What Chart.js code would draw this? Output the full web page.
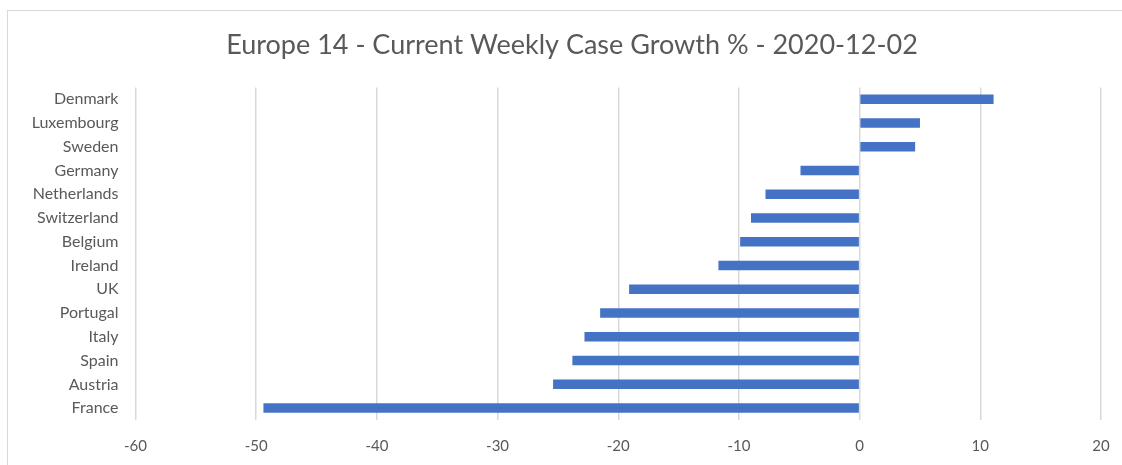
<!DOCTYPE html>
<html>
<head>
<meta charset="utf-8">
<script src="https://cdn.jsdelivr.net/npm/chart.js@4/dist/chart.umd.min.js"></script>
<style>
  html, body { margin: 0; padding: 0; background: #fff; overflow: hidden; }
  #box {
    position: absolute; left: 7px; top: 10px;
    width: 1130px; height: 470px;
    border: 1px solid #d9d9d9;
  }
</style>
</head>
<body>
<div id="box"><canvas id="chart_render" width="1130" height="470"></canvas></div>
<script>
//// data

let countries = ['Denmark', 'Luxembourg', 'Sweden', 'Germany', 'Netherlands', 'Switzerland', 'Belgium',
    'Ireland', 'UK', 'Portugal', 'Italy', 'Spain', 'Austria', 'France'];
let growthValues = [11.1, 5.0, 4.6, -4.9, -7.8, -9.0, -9.9, -11.7, -19.1, -21.5, -22.8, -23.8, -25.4, -49.4];
let xTicks = [-60, -50, -40, -30, -20, -10, 0, 10, 20];
let chartTitle = 'Europe 14 - Current Weekly Case Growth % - 2020-12-02';

let textColor = '#595959';
let chart_render = document.getElementById('chart_render');

// the excel title sits centred over the whole chart box, not the padded area
let titleShift = {
    id: 'titleShift',
    afterLayout: function(chart) {
        chart.titleBlock.left += 35;
    }
};

new Chart(chart_render.getContext('2d'), {
    type: 'bar',
    data: {
        labels: countries,
        datasets: [{
            label: 'Growth %',
            data: growthValues,
            backgroundColor: '#4472C4',
            barPercentage: 0.4,
            categoryPercentage: 1
        }]
    },
    options: {
        indexAxis: 'y',
        responsive: false,
        animation: false,
        layout: { padding: { left: 0, right: 37, top: 0, bottom: 0 } },
        plugins: {
            legend: { display: false },
            tooltip: { enabled: false },
            title: {
                display: true,
                text: chartTitle,
                color: textColor,
                font: { family: 'Lato', size: 27, weight: 'normal' },
                padding: { top: 18, bottom: 26 }
            }
        },
        scales: {
            x: {
                min: xTicks[0],
                max: xTicks[xTicks.length - 1],
                afterBuildTicks: function(scale) {
                    scale.ticks = xTicks.map(function(v) { return { value: v }; });
                },
                afterFit: function(scale) { scale.height = 61; },
                grid: { color: '#d9d9d9', lineWidth: 1.5, drawTicks: false },
                border: { display: false },
                ticks: {
                    color: textColor,
                    padding: 17,
                    font: { family: 'Lato', size: 15 }
                }
            },
            y: {
                afterFit: function(scale) { scale.width = 127.5; },
                grid: { display: false },
                border: { display: false },
                ticks: {
                    color: textColor,
                    padding: 9,
                    font: { family: 'Lato', size: 16 }
                }
            }
        }
    },
    plugins: [titleShift]
});
</script>
</body>
</html>
